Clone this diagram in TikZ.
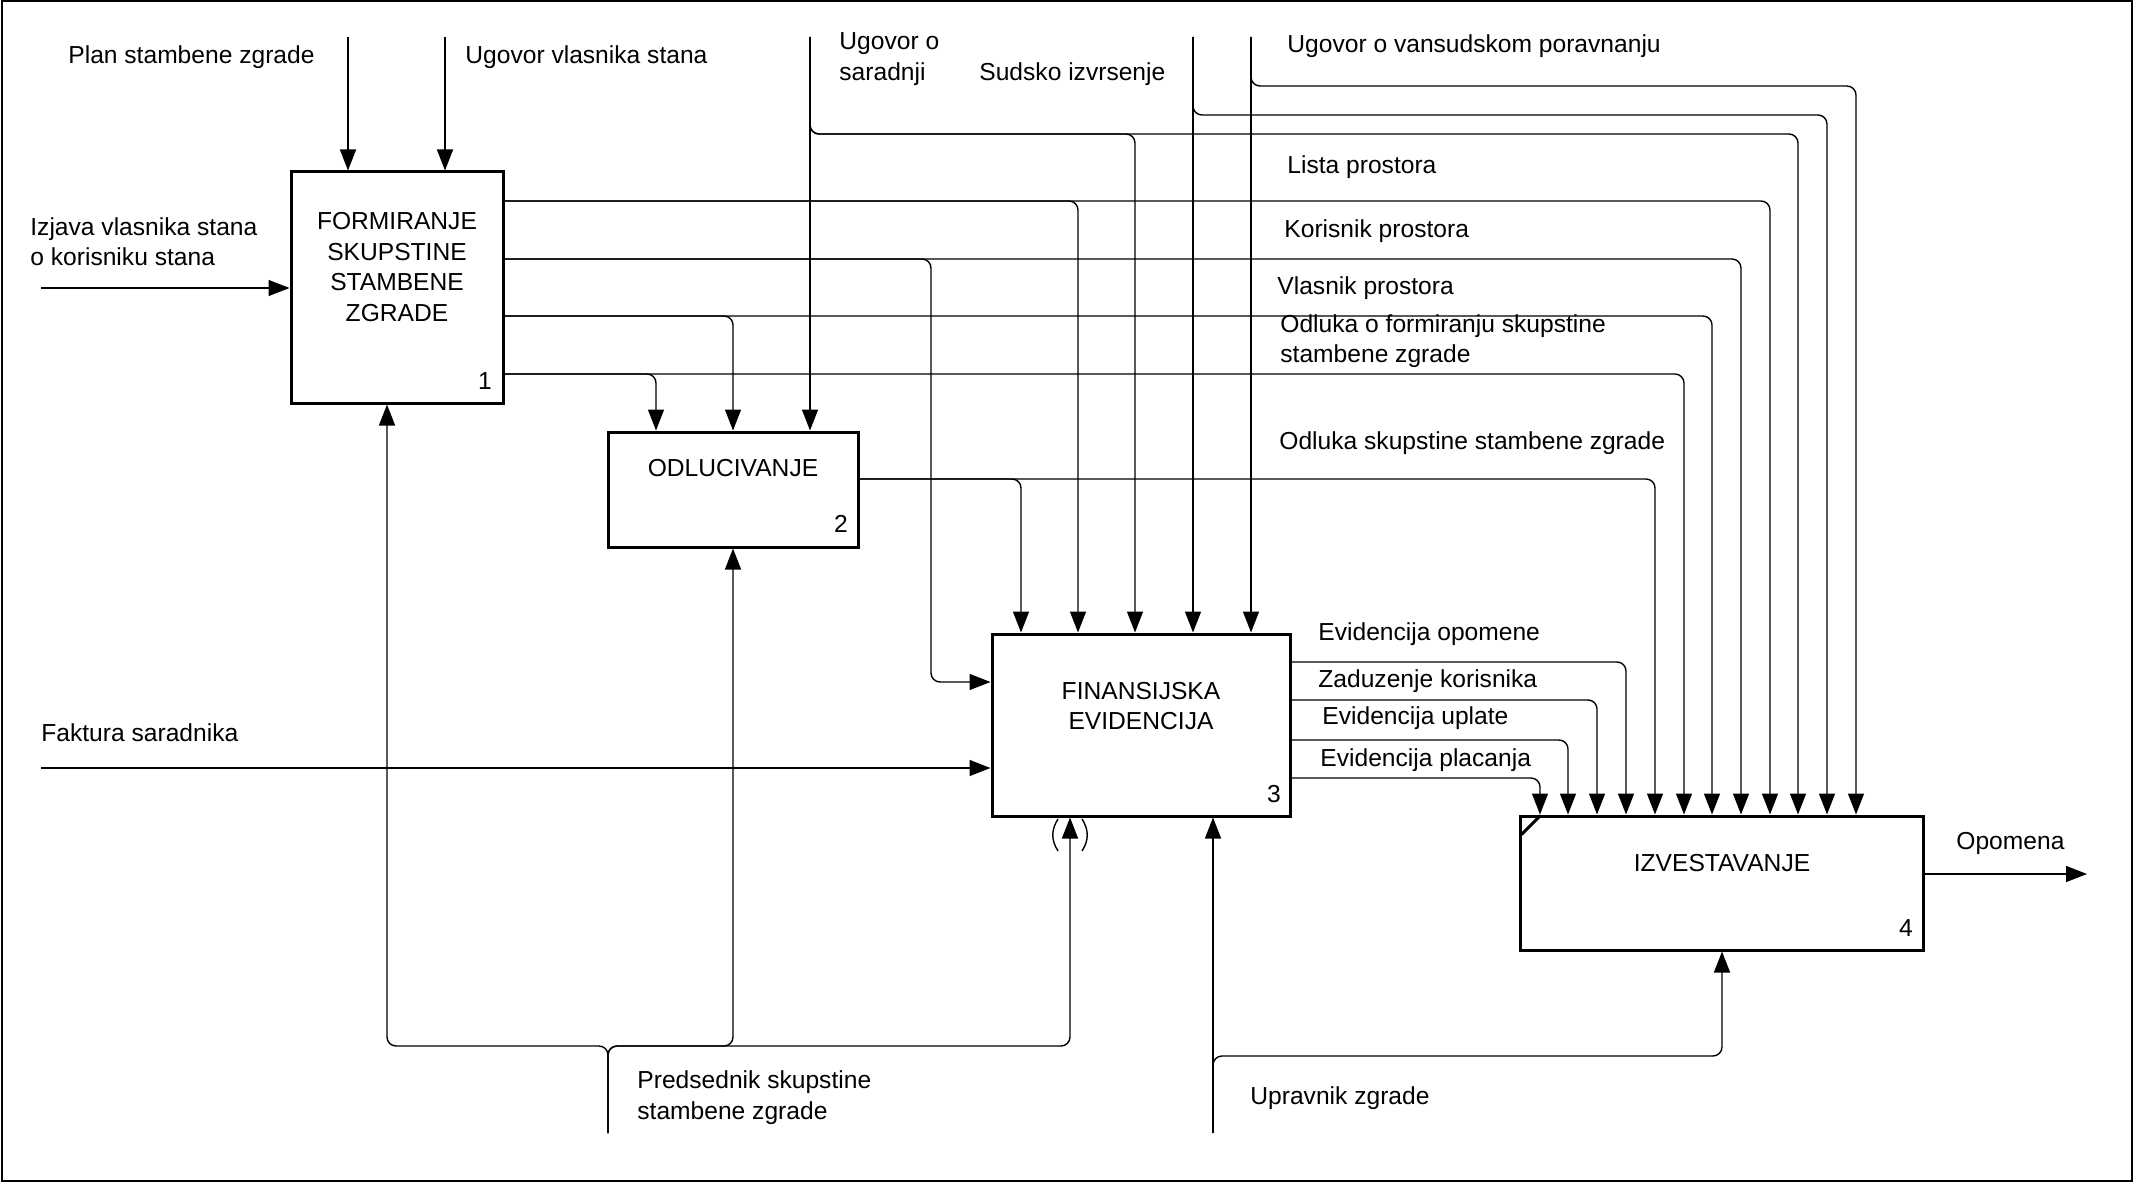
\documentclass[tikz,border=0pt]{standalone}
\usepackage{fontspec}
\setmainfont{Liberation Sans}
\usetikzlibrary{arrows.meta}
\newcommand\lblfont{\fontsize{12.3pt}{15.3pt}\selectfont}
\begin{document}
\begin{tikzpicture}[x=0.5pt,y=-0.5pt,
  box/.style={draw, line width=1.5pt, inner sep=0pt, rectangle},
  flow/.style={line width=0.7pt, rounded corners=4.5pt},
  arr/.style={flow, -{Triangle[length=10.5pt,width=8pt]}},
  lbl/.style={font=\lblfont, inner sep=0pt, anchor=base west},
  btext/.style={font=\lblfont, align=center, inner sep=0pt},
  bnum/.style={font=\lblfont, inner sep=0pt}]
\useasboundingbox (0,0) rectangle (2147,1182);
% frame
\draw[line width=1pt] (2,1) rectangle (2132,1181);

% boxes
\node[box, minimum width=106pt, minimum height=115.5pt] (b1) at (397,287.5) {};
\node[box, minimum width=125pt, minimum height=57.5pt] (b2) at (733,489.5) {};
\node[box, minimum width=149pt, minimum height=91pt] (b3) at (1141,725) {};
\node[box, minimum width=201.5pt, minimum height=67pt] (b4) at (1721.5,883) {};

\node[btext] (t1) at (397,267) {FORMIRANJE\\SKUPSTINE\\STAMBENE\\ZGRADE};
\node[btext] (t2) at (733,468) {ODLUCIVANJE};
\node[btext] (t3) at (1141,706) {FINANSIJSKA\\EVIDENCIJA};
\node[btext] (t4) at (1722,863) {IZVESTAVANJE};
\node[bnum] (n1) at (485,381) {1};
\node[bnum] (n2) at (841,524) {2};
\node[bnum] (n3) at (1274,794) {3};
\node[bnum] (n4) at (1906,928) {4};

% tunnel mark on box 4
\draw[line width=1.5pt] (b4.north west) ++(1.5pt,-10pt) -- ++(9.5pt,9.5pt);

% free ends
\coordinate (sPlan) at (348,37);
\coordinate (sUgVl) at (445,37);
\coordinate (sIzj) at (41,288);
\coordinate (sSar) at (810,37);
\coordinate (sSud) at (1193,37);
\coordinate (sVan) at (1251,37);
\coordinate (sFak) at (41,768);
\coordinate (sPred) at (608,1133);
\coordinate (sUpr) at (1213,1133);
\coordinate (eOpo) at (2087,874);

% controls / inputs of box 1
\draw[arr] (sPlan) -- (sPlan |- b1.north);
\draw[arr] (sUgVl) -- (sUgVl |- b1.north);
\draw[arr] (sIzj) -- (b1.west |- sIzj);

% Ugovor o saradnji
\draw[arr] (sSar) -- (sSar |- b2.north);
\draw[arr] (sSar) -- (810,134) -- (1798,134) -- (1798,0 |- b4.north);
\draw[arr] (sSar) -- (810,134) -- (1135,134) -- (1135,0 |- b3.north);
% Sudsko izvrsenje
\draw[arr] (sSud) -- (sSud |- b3.north);
\draw[arr] (sSud) -- (1193,115) -- (1827,115) -- (1827,0 |- b4.north);
% Ugovor o vansudskom poravnanju
\draw[arr] (sVan) -- (sVan |- b3.north);
\draw[arr] (sVan) -- (1251,86) -- (1856,86) -- (1856,0 |- b4.north);

% outputs of box 1
\draw[arr] (b1.east |- 0,201) -- (1770,201) -- (1770,0 |- b4.north);
\draw[arr] (b1.east |- 0,201) -- (1078,201) -- (1078,0 |- b3.north);
\draw[arr] (b1.east |- 0,259) -- (1741,259) -- (1741,0 |- b4.north);
\draw[arr] (b1.east |- 0,259) -- (931,259) -- (931,682) -- (b3.west |- 0,682);
\draw[arr] (b1.east |- 0,316) -- (1712,316) -- (1712,0 |- b4.north);
\draw[arr] (b1.east |- 0,316) -- (733,316) -- (733,0 |- b2.north);
\draw[arr] (b1.east |- 0,374) -- (1684,374) -- (1684,0 |- b4.north);
\draw[arr] (b1.east |- 0,374) -- (656,374) -- (656,0 |- b2.north);

% output of box 2
\draw[arr] (b2.east |- 0,479) -- (1655,479) -- (1655,0 |- b4.north);
\draw[arr] (b2.east |- 0,479) -- (1021,479) -- (1021,0 |- b3.north);

% outputs of box 3
\draw[arr] (b3.east |- 0,662) -- (1626,662) -- (1626,0 |- b4.north);
\draw[arr] (b3.east |- 0,700) -- (1597,700) -- (1597,0 |- b4.north);
\draw[arr] (b3.east |- 0,740) -- (1568,740) -- (1568,0 |- b4.north);
\draw[arr] (b3.east |- 0,778) -- (1540,778) -- (1540,0 |- b4.north);

% Faktura saradnika
\draw[arr] (sFak) -- (b3.west |- sFak);

% Predsednik skupstine stambene zgrade
\draw[arr] (sPred) -- (608,1046) -- (387,1046) -- (387,0 |- b1.south);
\draw[arr] (sPred) -- (608,1046) -- (733,1046) -- (733,0 |- b2.south);
\draw[arr] (sPred) -- (608,1046) -- (1070,1046) -- (1070,0 |- b3.south);
\draw[line width=0.7pt] (1058,819) .. controls (1051,830) and (1051,840) .. (1058,851);
\draw[line width=0.7pt] (1082,819) .. controls (1089,830) and (1089,840) .. (1082,851);

% Upravnik zgrade
\draw[arr] (sUpr) -- (sUpr |- b3.south);
\draw[arr] (sUpr) -- (1213,1056) -- (1722,1056) -- (1722,0 |- b4.south);

% Opomena
\draw[arr] (b4.east |- eOpo) -- (eOpo);

% labels
\node[lbl] (lPlan) at (68,63.5) {Plan stambene zgrade};
\node[lbl] (lUgVl) at (465,64) {Ugovor vlasnika stana};
\node[lbl] (lIzj1) at (30,235.5) {Izjava vlasnika stana};
\node[lbl] (lIzj2) at (30,266) {o korisniku stana};
\node[lbl] (lSar1) at (839,50) {Ugovor o};
\node[lbl] (lSar2) at (839,81) {saradnji};
\node[lbl] (lSud) at (979,81) {Sudsko izvrsenje};
\node[lbl] (lVan) at (1287,53) {Ugovor o vansudskom poravnanju};
\node[lbl] (lLis) at (1287,174) {Lista prostora};
\node[lbl] (lKor) at (1284,237.5) {Korisnik prostora};
\node[lbl] (lVla) at (1277,295) {Vlasnik prostora};
\node[lbl] (lOdf1) at (1280,332) {Odluka o formiranju skupstine};
\node[lbl] (lOdf2) at (1280,362.5) {stambene zgrade};
\node[lbl] (lOds) at (1279,449) {Odluka skupstine stambene zgrade};
\node[lbl] (lFak) at (41,741) {Faktura saradnika};
\node[lbl] (lEvo) at (1318,640.5) {Evidencija opomene};
\node[lbl] (lZad) at (1318,687.5) {Zaduzenje korisnika};
\node[lbl] (lEvu) at (1322,724.5) {Evidencija uplate};
\node[lbl] (lEvp) at (1320,766.5) {Evidencija placanja};
\node[lbl] (lOpo) at (1956,849) {Opomena};
\node[lbl] (lUpr) at (1250,1104) {Upravnik zgrade};
\node[lbl] (lPre1) at (637,1088.5) {Predsednik skupstine};
\node[lbl] (lPre2) at (637,1119.5) {stambene zgrade};
\end{tikzpicture}
\end{document}
